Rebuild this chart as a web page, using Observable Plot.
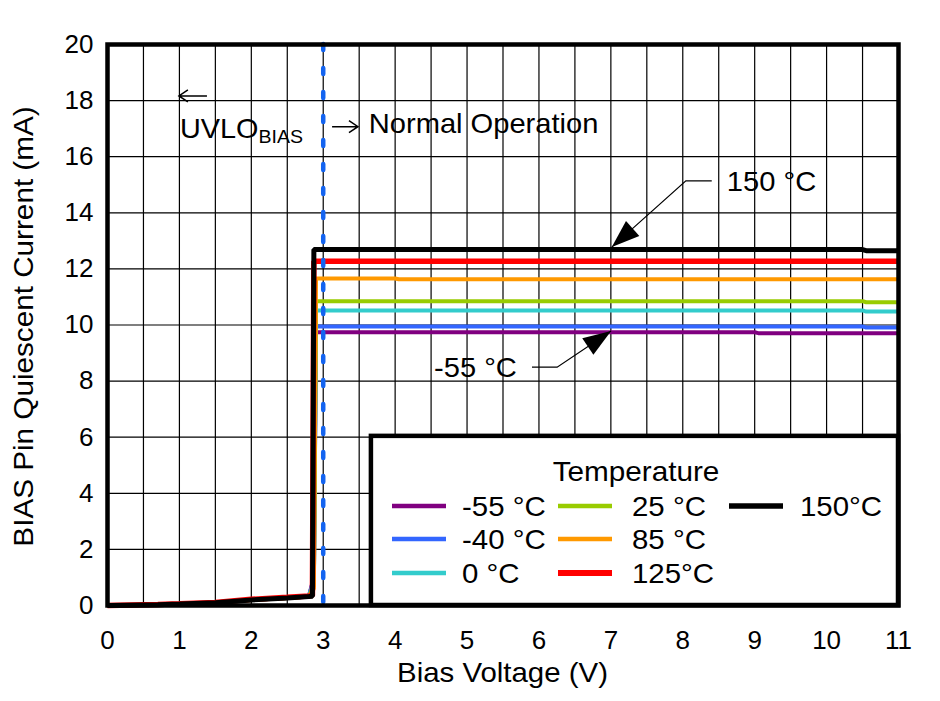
<!DOCTYPE html>
<html>
<head>
<meta charset="utf-8">
<script src="https://cdn.jsdelivr.net/npm/d3@7"></script>
<script src="https://cdn.jsdelivr.net/npm/@observablehq/plot@0.6"></script>
<style>
  body { margin: 0; background: white; }
  #chart { width: 940px; height: 701px; }
</style>
</head>
<body>
<div id="chart"></div>
<script>
// ---- data ----
const voltage = [0, 0.7, 1, 1.5, 2, 2.5, 2.8, 2.85, 2.87, 2.9, 4, 4.05, 9, 9.05, 10.5, 10.55, 11];
const iM55  = [0, 0.03, 0.05, 0.1, 0.2, 0.27, 0.32, 0.8, 0.9, 9.74, 9.74, 9.74, 9.74, 9.71, 9.71, 9.71, 9.71];
const iM40  = [0, 0.03, 0.05, 0.1, 0.2, 0.27, 0.32, 0.8, 0.9, 9.95, 9.95, 9.95, 9.95, 9.95, 9.95, 9.91, 9.91];
const i0    = [0, 0.03, 0.05, 0.1, 0.2, 0.27, 0.32, 0.7, 0.8, 10.52, 10.52, 10.52, 10.52, 10.52, 10.52, 10.48, 10.48];
const i25   = [0, 0.03, 0.05, 0.1, 0.2, 0.27, 0.32, 0.6, 0.7, 10.85, 10.85, 10.85, 10.85, 10.85, 10.85, 10.81, 10.81];
const i85   = [0, 0.03, 0.05, 0.1, 0.2, 0.27, 0.32, 0.5, 0.6, 11.66, 11.66, 11.63, 11.63, 11.63, 11.63, 11.63, 11.63];
const i125  = [0, 0.04, 0.06, 0.11, 0.22, 0.29, 0.34, 0.36, 12.27, 12.27, 12.27, 12.27, 12.27, 12.27, 12.27, 12.27, 12.27];
const i150  = [0, 0.03, 0.05, 0.1, 0.2, 0.27, 0.32, 0.33, 12.69, 12.69, 12.69, 12.69, 12.69, 12.69, 12.69, 12.65, 12.65];

const seriesNames  = ["-55 °C", "-40 °C", "0 °C", "25 °C", "85 °C", "125°C", "150°C"];
const seriesValues = [iM55, iM40, i0, i25, i85, i125, i150];
const seriesColors = ["#800080", "#3366ff", "#33cccc", "#99cc00", "#ff9900", "#ff0000", "#000000"];
const seriesWidths = [4, 4, 4, 4, 4, 5.5, 5];

const xTicks = [0, 1, 2, 3, 4, 5, 6, 7, 8, 9, 10, 11];
const yTicks = [0, 2, 4, 6, 8, 10, 12, 14, 16, 18, 20];
const xGrid = d3.range(0.5, 11, 0.5);
const yGrid = [2, 4, 6, 8, 10, 12, 14, 16, 18];
const uvloVoltage = [3];

// annotation anchors (data units)
const arrowLabels = ["150 °C", "-55 °C"];
const arrowTipV = [7.02, 7.01], arrowTipI = [12.76, 9.77];
const kneeV = [8.05, 6.26], kneeI = [15.12, 8.48];
const endV = [8.41, 5.91];
const labelV = [8.62, 5.70];
const labelAnchor = ["start", "end"];

const legendBox = {x1: 3.67, x2: 11, y1: 0, y2: 6.03};

const FONT = "'Liberation Sans', Arial, Helvetica, sans-serif";

const lineMarks = seriesNames.map((name, k) =>
  Plot.line(voltage.map((v, j) => ({v, i: seriesValues[k][j]})), {
    x: "v", y: "i", stroke: seriesColors[k], strokeWidth: seriesWidths[k],
    strokeLinejoin: "miter", strokeLinecap: "butt", curve: "linear"
  })
);

const plot = Plot.plot({
  width: 940, height: 701,
  marginLeft: 107, marginRight: 42, marginTop: 44, marginBottom: 96,
  style: {fontFamily: FONT, fontSize: "26px", color: "black", background: "white", overflow: "visible"},
  x: {domain: [0, 11], label: null},
  y: {domain: [0, 20], label: null},
  marks: [
    Plot.ruleX(xGrid, {stroke: "black", strokeWidth: 1.2}),
    Plot.ruleY(yGrid, {stroke: "black", strokeWidth: 1.2}),
    ...lineMarks,
    Plot.ruleX(uvloVoltage, {stroke: "#1464f0", strokeWidth: 4.5, strokeDasharray: "6 18", strokeLinecap: "round"}),
    Plot.rect([legendBox], {x1: "x1", x2: "x2", y1: "y1", y2: "y2", fill: "white", stroke: "black", strokeWidth: 4.5}),
    Plot.frame({stroke: "black", strokeWidth: 4.5}),
    Plot.axisX({ticks: xTicks, tickSize: 0, tickPadding: 25, fontSize: 26, tickFormat: d => String(d), label: null}),
    Plot.axisY({ticks: yTicks, tickSize: 0, tickPadding: 14, fontSize: 26, tickFormat: d => String(d), label: null})
  ]
});

document.getElementById("chart").appendChild(plot);

const X = plot.scale("x").apply, Y = plot.scale("y").apply;
const svg = d3.select(plot);
const g = svg.append("g").attr("font-family", FONT).attr("fill", "black").attr("text-anchor", "start");

// text helper with slight horizontal stretch like the reference lettering
function label(parent, x, y, str, size, sx, anchor = "start", dy = null) {
  const t = parent.append("text")
    .attr("transform", `translate(${x},${y}) scale(${sx},1)`)
    .attr("font-size", size).attr("text-anchor", anchor).text(str);
  if (dy) t.attr("dy", dy);
  return t;
}

// axis titles
label(g, (X(0) + X(11)) / 2, 682, "Bias Voltage (V)", 27, 1.09, "middle");
g.append("text").attr("transform", `translate(33,${(Y(0) + Y(20)) / 2 + 2}) rotate(-90) scale(1.06,1)`)
  .attr("text-anchor", "middle").attr("font-size", 28).text("BIAS Pin Quiescent Current (mA)");

// UVLO annotation
const uv = g.append("text").attr("transform", `translate(${X(1.015)},${Y(16.65)}) scale(1.03,1)`).attr("font-size", 28);
uv.append("tspan").text("UVLO");
uv.append("tspan").attr("font-size", 19).attr("dy", 5).text("BIAS");

function thinArrow(xa, xb, yv) {
  const x1 = X(xa), x2 = X(xb), y = Y(yv);
  const dir = Math.sign(x2 - x1);
  g.append("path")
    .attr("d", `M${x1},${y}L${x2},${y}M${x2 - dir * 9},${y - 6}L${x2},${y}L${x2 - dir * 9},${y + 6}`)
    .attr("fill", "none").attr("stroke", "black").attr("stroke-width", 1.5);
}
thinArrow(1.39, 1.0, 18.15);
thinArrow(3.13, 3.49, 17.05);
label(g, X(3.64), Y(16.82), "Normal Operation", 28, 1.04);

// temperature call-outs
arrowLabels.forEach((lab, k) => {
  const tx = X(arrowTipV[k]), ty = Y(arrowTipI[k]);
  const kx = X(kneeV[k]), ky = Y(kneeI[k]);
  const ex = X(endV[k]);
  g.append("path").attr("d", `M${ex},${ky}L${kx},${ky}L${tx},${ty}`)
    .attr("fill", "none").attr("stroke", "black").attr("stroke-width", 1.2);
  const dx = kx - tx, dy = ky - ty, L = Math.hypot(dx, dy);
  const ux = dx / L, uy = dy / L;
  const bx = tx + ux * 28, by = ty + uy * 28;
  const px = -uy * 10, py = ux * 10;
  g.append("path").attr("d", `M${tx},${ty}L${bx + px},${by + py}L${bx - px},${by - py}Z`).attr("fill", "black");
  label(g, X(labelV[k]), ky, lab, 28, 1.04, labelAnchor[k], "0.36em");
});

// legend contents
const lg = g.append("g");
label(lg, 636, 471, "Temperature", 27, 1.1, "middle", "0.36em");
const colSwatch = [392, 558, 729], colText = [462, 632, 800], rowY = [506, 539, 573];
seriesNames.forEach((name, k) => {
  const c = Math.floor(k / 3), r = k % 3;
  lg.append("line").attr("x1", colSwatch[c]).attr("x2", colSwatch[c] + 54)
    .attr("y1", rowY[r]).attr("y2", rowY[r])
    .attr("stroke", seriesColors[k]).attr("stroke-width", seriesWidths[k] + 0.5);
  label(lg, colText[c], rowY[r], name, 27, 1.09, "start", "0.36em");
});
</script>
</body>
</html>
